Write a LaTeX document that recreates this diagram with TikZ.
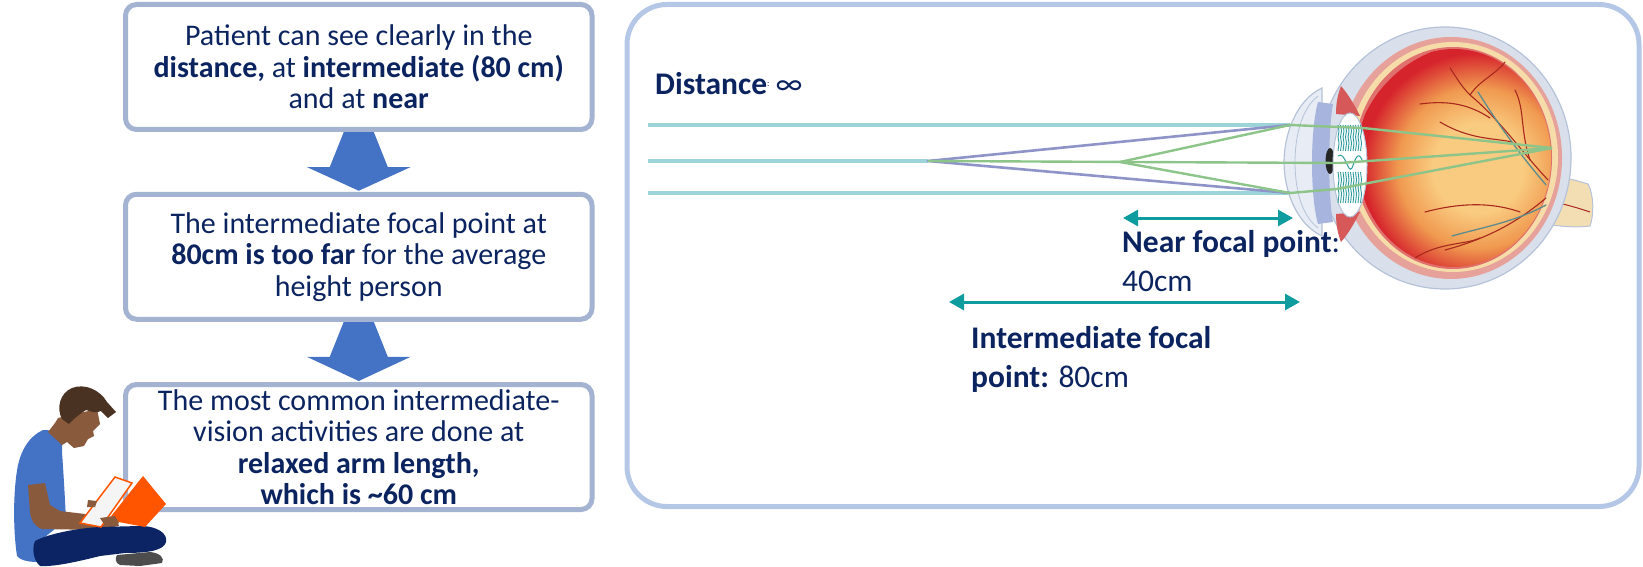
\documentclass[tikz,border=0pt]{standalone}
\usepackage{fontspec}
\setmainfont{Carlito}
\usetikzlibrary{arrows.meta,calc,backgrounds}
\definecolor{navy}{HTML}{0B2460}
\definecolor{lboxc}{HTML}{A3B3D1}
\definecolor{rboxc}{HTML}{B4C7E7}
\definecolor{arrowblue}{HTML}{4472C4}
\definecolor{teal}{HTML}{0E9C9E}
\definecolor{raycyan}{HTML}{9DD4D9}
\definecolor{raypurple}{HTML}{8E94C8}
\definecolor{raygreen}{HTML}{8DC48A}
\definecolor{hair}{HTML}{4A3222}
\definecolor{skin}{HTML}{8A5A3C}
\definecolor{pants}{HTML}{0D2464}
\definecolor{bookorange}{HTML}{FF5500}
\definecolor{shoe}{HTML}{4D4D4D}
\definecolor{sclera}{HTML}{D9E0EC}
\definecolor{scleraline}{HTML}{B5C2D8}
\definecolor{choroid}{HTML}{E6A29A}
\definecolor{cream}{HTML}{F6DCA8}
\definecolor{retinain}{HTML}{F9CB80}
\definecolor{retinamid}{HTML}{F09A50}
\definecolor{retinaout}{HTML}{D6242C}
\definecolor{ciliary}{HTML}{D65858}
\definecolor{vessel}{HTML}{A8281E}
\definecolor{vein}{HTML}{5E8C8C}
\definecolor{iris}{HTML}{A7B4DE}
\definecolor{lensteal}{HTML}{2E9A9C}
\definecolor{nerve}{HTML}{F3DEB4}
\pgfdeclareradialshading{vitreous}{\pgfpoint{0bp}{0bp}}{%
  color(0bp)=(retinain); color(9bp)=(retinain); color(16bp)=(retinamid);
  color(23bp)=(retinaout); color(50bp)=(retinaout)}
\begin{document}
\begin{tikzpicture}[x=1pt,y=-1pt,
  lbox/.style={draw=lboxc, line width=5pt, rounded corners=11pt, fill=white,
    minimum width=466.5pt, minimum height=125pt, inner sep=0pt, align=center,
    text=navy, font=\fontsize{30}{31.5}\selectfont},
  panel/.style={draw=rboxc, line width=5pt, rounded corners=40pt,
    minimum width=1012pt, minimum height=502pt, inner sep=0pt},
  label/.style={anchor=base west, inner sep=0pt, text=navy, align=left,
    font=\fontsize{31.5}{39}\selectfont},
  dim/.style={draw=teal, line width=3pt, {Triangle[length=15pt,width=16pt]}-{Triangle[length=15pt,width=16pt]}},
  blockarrow/.style={fill=arrowblue},
  cyanray/.style={draw=raycyan, line width=3.5pt},
  purpleray/.style={draw=raypurple, line width=2.6pt, line join=round},
  greenray/.style={draw=raygreen, line width=2.4pt, line join=round},
  vess/.style={draw=vessel, line width=1.1pt, line cap=round},
  veinl/.style={draw=vein, line width=1.3pt, line cap=round}]
\useasboundingbox (0,0) rectangle (1643,567);

% ---------- left column: three statements ----------
\node[lbox] (b1) at (358.75,67) {Patient can see clearly in the\\
  \textbf{distance,} at \textbf{intermediate (80 cm)}\\
  and at \textbf{near}};
\node[lbox] (b2) at (358.75,256.75) {The intermediate focal point at\\
  \textbf{80cm is too far} for the average\\
  height person};
\node[lbox] (b3) at (358.75,447) {The most common intermediate-\\
  vision activities are done at\\
  \textbf{relaxed arm length,}\\
  \textbf{which is \textasciitilde60 cm}};

\begin{scope}[on background layer]
  \foreach \a/\b in {b1/b2, b2/b3}{
    \fill[blockarrow] ($(\a.south)+(-15,0)$) -- ($(\a.south)+(15,0)$)
      -- ($(\a.south)+(29,35)$) -- ($(\a.south)+(52,35)$)
      -- ($(\b.north)+(0,-1)$)
      -- ($(\a.south)+(-52,35)$) -- ($(\a.south)+(-29,35)$) -- cycle;
  }
\end{scope}

% ---------- reader sitting on the floor ----------
% shirt
\fill[arrowblue] (48,430) -- (62,441) -- (62,452) .. controls (64,480) and (65,500) .. (66,520)
  -- (40,541) -- (37,562) .. controls (28,562) and (20,560) .. (17,556)
  .. controls (13,530) and (13,490) .. (18,465) .. controls (22,448) and (30,436) .. (43,430) -- cycle;
% arm
\fill[skin] (28,485) -- (45,483) -- (50,505) -- (60,511) -- (85,514) -- (100,520) -- (117,519)
  -- (119,526) -- (107,528) -- (98,530) -- (42,529) .. controls (34,526) and (31,520) .. (30,512) -- cycle;
% head and neck
\fill[skin] (58,418) -- (97,409) -- (100,424) -- (93,431) -- (94,436) -- (88,439) -- (84,446)
  -- (74,448) -- (67,442) -- (62,445) -- (48,432) -- (55,423) -- cycle;
% hair
\fill[hair] (62,419) .. controls (56,408) and (60,393) .. (72,388)
  .. controls (85,383) and (100,390) .. (107,402) -- (116,412) -- (108,418) -- (101,411)
  .. controls (96,414) and (90,411) .. (86,410) .. controls (80,414) and (74,418) .. (69,424) -- cycle;
% legs
\fill[pants] (35,541) .. controls (50,533) and (80,528) .. (100,527) -- (140,526)
  .. controls (158,526) and (168,534) .. (166,542) .. controls (164,550) and (150,553) .. (125,553)
  -- (100,556) .. controls (80,561) and (55,567) .. (40,566) .. controls (33,560) and (32,548) .. (35,541) -- cycle;
% shoe
\fill[shoe] (117,555) -- (150,552) .. controls (160,553) and (165,558) .. (162,563)
  -- (140,566) -- (120,565) .. controls (115,563) and (115,558) .. (117,555) -- cycle;
% book
\fill[bookorange] (108,520) -- (143,476) -- (166,504) -- (145,527) -- cycle;
\filldraw[fill=white!96!black, draw=bookorange, line width=1.5pt] (80,523) -- (115,477) -- (132,483) -- (101,527) -- cycle;
% hands
\fill[skin] (88,500) -- (97,501) -- (95,507) -- (87,507) -- cycle;
\fill[skin] (100,518) -- (115,516) -- (119,523) -- (106,527) -- cycle;

% ---------- right panel: focal distances ----------
\node[panel] (panel) at (1133,255.5) {};

\node[label] (dist) at (655,95) {\textbf{Distance}\raisebox{8pt}{\fontsize{9}{9}\selectfont :}\hspace{6pt}∞};

% optic nerve
\filldraw[fill=nerve, draw=scleraline, line width=1pt]
  (1540,174) .. controls (1560,176) and (1575,180) .. (1588,184)
  .. controls (1594,195) and (1594,215) .. (1590,226)
  .. controls (1575,228) and (1560,226) .. (1540,224) -- cycle;
\draw[vessel, line width=1pt] (1545,200) .. controls (1565,204) and (1578,208) .. (1590,212);
% outer coat
\filldraw[fill=sclera, draw=scleraline, line width=1.2pt] (1445,158) ellipse [x radius=126, y radius=131];
\fill[choroid] (1451,158) ellipse [x radius=111, y radius=121];
\fill[cream] (1453,157) ellipse [x radius=105, y radius=115];
\fill[choroid!60!retinaout] (1453,158) ellipse [x radius=99, y radius=111];
% vitreous with retina glow, brightest right of centre
\begin{scope}
  \clip (1454,158) ellipse [x radius=97, y radius=109];
  \shade[shading=vitreous] (1478,168) circle (125);
\end{scope}
% vessels
\draw[vess] (1548,180) .. controls (1520,150) and (1500,120) .. (1470,95) .. controls (1460,85) and (1455,75) .. (1450,68);
\draw[vess] (1512,142) .. controls (1495,138) and (1470,140) .. (1440,122);
\draw[vess] (1490,118) .. controls (1470,105) and (1450,100) .. (1420,104);
\draw[vess] (1546,198) .. controls (1520,220) and (1490,238) .. (1445,250);
\draw[vess] (1520,212) .. controls (1500,205) and (1470,200) .. (1425,212);
\draw[vess] (1480,238) .. controls (1465,245) and (1440,242) .. (1415,258);
\draw[vess] (1530,160) .. controls (1520,130) and (1525,110) .. (1515,90);
\draw[vess] (1470,95) .. controls (1480,80) and (1495,75) .. (1505,62);
\draw[veinl] (1546,185) .. controls (1525,160) and (1505,135) .. (1478,92);
\draw[veinl] (1546,205) .. controls (1515,222) and (1480,228) .. (1452,236);
% ciliary body above and below the lens
\fill[ciliary] (1336,114) .. controls (1336,102) and (1338,94) .. (1341,86)
  .. controls (1348,94) and (1354,104) .. (1360,116) -- cycle;
\fill[ciliary] (1336,214) .. controls (1336,226) and (1338,234) .. (1341,242)
  .. controls (1348,234) and (1354,224) .. (1360,212) -- cycle;
% cornea and iris
\filldraw[fill=sclera!60!white, draw=scleraline, line width=1.2pt]
  (1322,88) .. controls (1296,100) and (1284,135) .. (1284,162)
  .. controls (1284,190) and (1296,224) .. (1322,236) -- cycle;
\draw[scleraline, line width=0.8pt] (1318,96) .. controls (1300,110) and (1295,140) .. (1295,162)
  .. controls (1295,186) and (1300,214) .. (1318,228);
\fill[iris] (1318,102) .. controls (1310,130) and (1310,196) .. (1318,224)
  -- (1333,222) .. controls (1328,196) and (1328,130) .. (1333,104) -- cycle;
\fill[black!85] (1330,161) ellipse [x radius=4.5, y radius=13];
% lens
\filldraw[fill=white, draw=scleraline, line width=1pt] (1350,165) ellipse [x radius=17, y radius=52];
\foreach \xx in {1338,1340.5,...,1362}{
  \draw[lensteal, line width=0.9pt] (\xx,125) -- (\xx+1,131) -- (\xx,137) -- (\xx+1,143) -- (\xx,151);
  \draw[lensteal, line width=0.9pt] (\xx,172) -- (\xx+1,180) -- (\xx,187) -- (\xx+1,194) -- (\xx,203);
}
\draw[lensteal, line width=1pt] (1338,156) .. controls (1345,150) and (1348,175) .. (1352,168)
  .. controls (1355,160) and (1358,150) .. (1362,160);

% light rays
\coordinate (topin) at (1290,125);
\coordinate (botin) at (1290,193);
\coordinate (farfocus) at (928,161);
\coordinate (nearfocus) at (1120,162);
\coordinate (retina) at (1552,148);
\draw[cyanray] (648,125) -- (topin);
\draw[cyanray] (648,161) -- (farfocus);
\draw[cyanray] (648,193) -- (botin);
\draw[purpleray] (topin) -- (farfocus) -- (botin);
\draw[greenray] (topin) -- (nearfocus) -- (botin);
\draw[greenray] (topin) -- (1363,128) -- (retina);
\draw[greenray] (farfocus) -- (1340,163) -- (retina);
\draw[greenray] (botin) -- (1337,189) -- (retina);

% dimension arrows and labels
\coordinate (nearL) at (1123,218);
\coordinate (nearR) at (1293,218);
\coordinate (midL) at (949,302);
\coordinate (midR) at (1300,302);
\draw[dim] (nearL) -- (nearR);
\draw[dim] (midL) -- (midR);
\node[label] (nearlab) at (1122,291) {\textbf{Near focal point}:\\40cm};
\node[label] (midlab) at (971,387) {\textbf{Intermediate focal}\\\textbf{point:} 80cm};
\end{tikzpicture}
\end{document}
